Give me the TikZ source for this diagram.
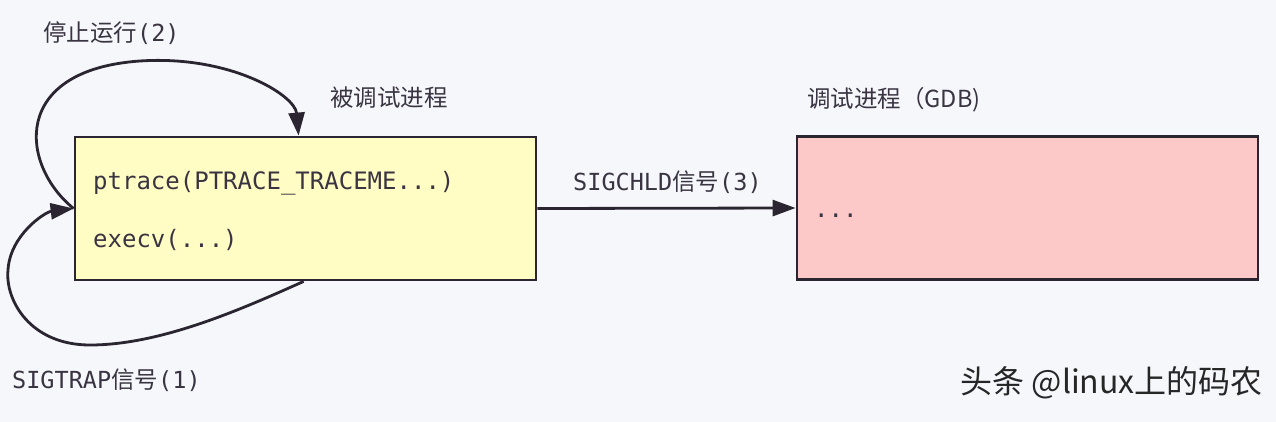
\documentclass[tikz,border=0pt]{standalone}
\usepackage{fontspec}
\usetikzlibrary{arrows.meta,calc}
\newfontfamily\cjk{Noto Sans CJK SC}
\newfontfamily\mono{DejaVu Sans Mono}
\definecolor{bgc}{HTML}{F5F7FB}
\definecolor{ylw}{HTML}{FFFDC3}
\definecolor{pnk}{HTML}{FDC9C8}
\definecolor{ink}{HTML}{2A2530}
\definecolor{txt}{HTML}{3A3442}
\tikzset{
  box/.style={draw=ink, line width=2.8pt, minimum width=461pt, minimum height=143pt, inner sep=0pt},
  conn/.style={draw=ink, line width=2.8pt, -{Triangle[length=23pt,width=16pt]}},
  lbl/.style={text=txt, inner sep=0pt, font=\fontsize{23.5}{26}\selectfont},
  code/.style={text=txt, inner sep=0pt, anchor=west, font=\mono\fontsize{24}{26}\selectfont}
}
\begin{document}
\begin{tikzpicture}[x=1pt,y=-1pt]
\fill[bgc] (0,0) rectangle (1276,422);
\useasboundingbox (0,0) rectangle (1276,422);
\node[box, fill=ylw] (yb) at (305.5,208.5) {};
\node[box, fill=pnk] (pb) at (1027.5,208) {};
\node[code] (c1) at (93,183) {ptrace(PTRACE\_TRACEME...)};
\node[code] (c2) at (93,240) {execv(...)};
\node[code] (c3) at (814,216) {...};
\node[lbl, anchor=west] (l1) at (330,98) {\cjk 被调试进程};
\node[lbl, anchor=west] (l2) at (807,100) {\cjk 调试进程（GDB)};
\node[lbl, anchor=west] (l3) at (43,33) {\cjk 停止运行\mono(2)};
\node[lbl, anchor=west] (l4) at (573,182) {\mono SIGCHLD\cjk 信号\mono(3)};
\node[lbl, anchor=west] (l5) at (12,380) {\mono SIGTRAP\cjk 信号\mono(1)};
\node[anchor=east, inner sep=0pt, text=black!85, font=\cjk\fontsize{32}{34}\selectfont] (wm) at (1263,383) {头条 @linux上的码农};
\draw[conn] (yb.east) -- (pb.west);
\draw[conn] (yb.west) .. controls (20,165) and (10,70) .. (140,61)
  .. controls (230,55) and (295,95) .. ($(yb.north west)+(225,0)$);
\draw[conn] ($(yb.south west)+(230,0)$) .. controls (240,310) and (160,345) .. (90,345)
  .. controls (30,345) and (5,300) .. (8,270)
  .. controls (10,235) and (45,212) .. (yb.west);
\end{tikzpicture}
\end{document}
